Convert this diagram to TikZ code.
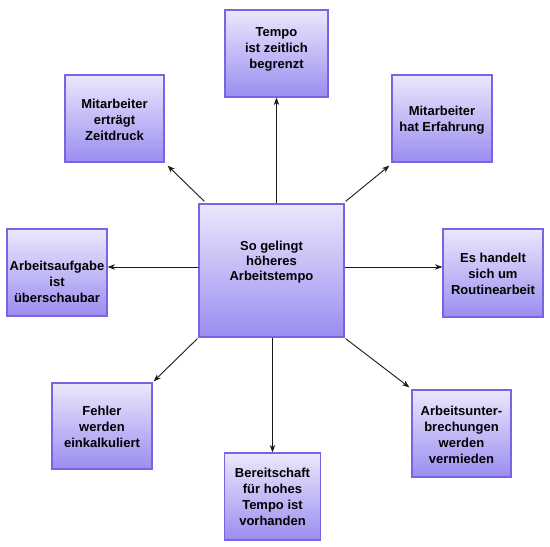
\documentclass[tikz,border=0pt]{standalone}
\usepackage{fontspec}
\setmainfont{Liberation Sans}
\usetikzlibrary{arrows.meta}
\definecolor{boxborder}{RGB}{120,100,228}
\definecolor{boxtop}{RGB}{234,232,252}
\definecolor{boxbot}{RGB}{154,141,240}
\begin{document}
\begin{tikzpicture}[x=1pt,y=-1pt,
  box/.style={draw=boxborder, line width=1.2pt, top color=boxtop, bottom color=boxbot, inner sep=0pt},
  lbl/.style={font=\bfseries\fontsize{13}{16}\selectfont, align=center, inner sep=0pt},
  arr/.style={-{Stealth[length=7.5pt,width=5.5pt]}, line width=0.9pt, black!90}]
\useasboundingbox (0,0) rectangle (550,547);
% boxes
\node[box, minimum width=145pt, minimum height=133pt] (c)  at (271.5,270.5) {};
\node[box, minimum width=103pt, minimum height=87pt]  (t)  at (276.5,53.5) {};
\node[box, minimum width=99pt,  minimum height=87pt]  (ml) at (114.5,118.5) {};
\node[box, minimum width=100pt, minimum height=87pt]  (mr) at (442,118.5) {};
\node[box, minimum width=100pt, minimum height=87pt]  (l)  at (57,272.5) {};
\node[box, minimum width=100pt, minimum height=88pt]  (r)  at (493,273) {};
\node[box, minimum width=100pt, minimum height=86pt]  (bl) at (102,426) {};
\node[box, minimum width=99pt,  minimum height=87pt]  (br) at (461.5,433.5) {};
\node[box, minimum width=96pt,  minimum height=87pt]  (b)  at (272.5,496.5) {};
% labels
\node[lbl, font=\bfseries\fontsize{13}{15}\selectfont] (ct) at (271.5,262) {So gelingt\\höheres\\Arbeitstempo};
\node[lbl] (tt)  at (276.5,49) {Tempo\\ist zeitlich\\begrenzt};
\node[lbl] (mlt) at (114.5,119.5) {Mitarbeiter\\erträgt\\Zeitdruck};
\node[lbl] (mrt) at (442,120) {Mitarbeiter\\hat Erfahrung};
\node[lbl] (lt)  at (57,282) {Arbeitsaufgabe\\ist\\überschaubar};
\node[lbl] (rt)  at (493,273.5) {Es handelt\\sich um\\Routinearbeit};
\node[lbl] (blt) at (102,427) {Fehler\\werden\\einkalkuliert};
\node[lbl] (brt) at (461.5,434.5) {Arbeitsunter-\\brechungen\\werden\\vermieden};
\node[lbl] (bt)  at (272.5,497) {Bereitschaft\\für hohes\\Tempo ist\\vorhanden};
% connectors
\coordinate (lw) at ([yshift=3.5pt]c.west);
\coordinate (rw) at ([yshift=3.5pt]c.east);
\draw[arr] (c.north -| t.south) -- (t.south);
\draw[arr] (c.south -| b.north) -- (b.north);
\draw[arr] (lw) -- (lw -| l.east);
\draw[arr] (rw) -- (rw -| r.west);
\draw[arr] ([shift={(6pt,2pt)}]c.north west) -- ([shift={(3pt,-3pt)}]ml.south east);
\draw[arr] ([shift={(1pt,2pt)}]c.north east) -- ([shift={(-2pt,-3pt)}]mr.south west);
\draw[arr] ([shift={(-1pt,-1pt)}]c.south west) -- ([shift={(1pt,1pt)}]bl.north east);
\draw[arr] ([shift={(1pt,-1pt)}]c.south east) -- ([shift={(-2pt,2pt)}]br.north west);
\end{tikzpicture}
\end{document}
